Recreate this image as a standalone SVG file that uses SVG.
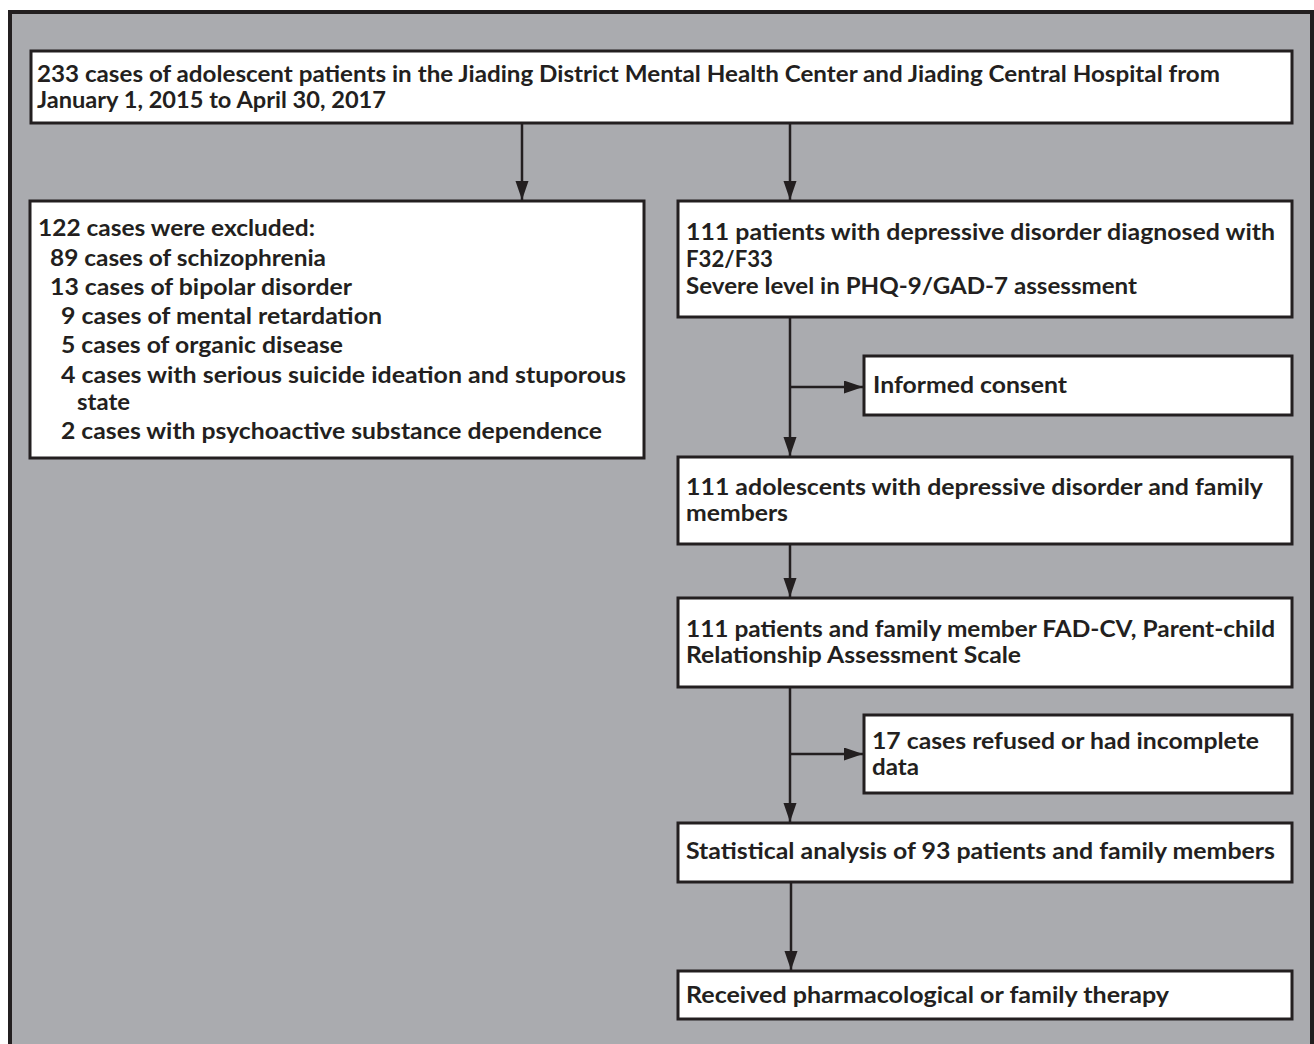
<svg xmlns="http://www.w3.org/2000/svg" width="1314" height="1044" viewBox="0 0 1314 1044">
<style>
.box{fill:#ffffff;stroke:#231f20;stroke-width:3}
.t{font-family:Lato,"Open Sans","Liberation Sans",sans-serif;font-weight:700;font-size:23px;fill:#231f20}
.c{stroke:#231f20;stroke-width:2.5;fill:none;marker-end:url(#ah)}
</style>
<defs>
<marker id="ah" markerUnits="userSpaceOnUse" markerWidth="20" markerHeight="14" refX="19" refY="6.5" orient="auto">
<path d="M0,0 L19,6.5 L0,13 z" fill="#231f20"/>
</marker>
</defs>
<rect width="1314" height="1044" fill="#ffffff"/>
<rect id="frame" x="10" y="12" width="1302" height="1100" fill="#aaabaf" stroke="#231f20" stroke-width="4"/>

<g id="connectors">
<line class="c" x1="522" y1="124" x2="522" y2="200"/>
<line class="c" x1="790" y1="124" x2="790" y2="200"/>
<line class="c" x1="790" y1="318" x2="790" y2="456"/>
<line class="c" x1="790" y1="387" x2="863" y2="387"/>
<line class="c" x1="790" y1="545" x2="790" y2="597"/>
<line class="c" x1="790" y1="688" x2="790" y2="822"/>
<line class="c" x1="790" y1="754" x2="863" y2="754"/>
<line class="c" x1="791" y1="883" x2="791" y2="970"/>
</g>

<g id="n-source">
<rect class="box" x="31" y="51" width="1261" height="72"/>
<text class="t" x="37" y="82" textLength="1183" lengthAdjust="spacingAndGlyphs">233 cases of adolescent patients in the Jiading District Mental Health Center and Jiading Central Hospital from</text>
<text class="t" x="37" y="108" textLength="349" lengthAdjust="spacingAndGlyphs">January 1, 2015 to April 30, 2017</text>
</g>

<g id="n-excluded">
<rect class="box" x="30" y="201" width="614" height="257"/>
<text class="t" x="38" y="236" textLength="277" lengthAdjust="spacingAndGlyphs">122 cases were excluded:</text>
<text class="t" x="50" y="266" textLength="276" lengthAdjust="spacingAndGlyphs">89 cases of schizophrenia</text>
<text class="t" x="50" y="295" textLength="302" lengthAdjust="spacingAndGlyphs">13 cases of bipolar disorder</text>
<text class="t" x="61" y="324" textLength="321" lengthAdjust="spacingAndGlyphs">9 cases of mental retardation</text>
<text class="t" x="61" y="353" textLength="282" lengthAdjust="spacingAndGlyphs">5 cases of organic disease</text>
<text class="t" x="61" y="383" textLength="565" lengthAdjust="spacingAndGlyphs">4 cases with serious suicide ideation and stuporous</text>
<text class="t" x="77" y="410" textLength="53" lengthAdjust="spacingAndGlyphs">state</text>
<text class="t" x="61" y="439" textLength="541" lengthAdjust="spacingAndGlyphs">2 cases with psychoactive substance dependence</text>
</g>

<g id="n-diagnosed">
<rect class="box" x="678" y="201" width="614" height="116"/>
<text class="t" x="686" y="240" textLength="589" lengthAdjust="spacingAndGlyphs">111 patients with depressive disorder diagnosed with</text>
<text class="t" x="686" y="267" textLength="87" lengthAdjust="spacingAndGlyphs">F32/F33</text>
<text class="t" x="686" y="294" textLength="451" lengthAdjust="spacingAndGlyphs">Severe level in PHQ-9/GAD-7 assessment</text>
</g>

<g id="n-consent">
<rect class="box" x="864" y="356" width="428" height="59"/>
<text class="t" x="873" y="393" textLength="194" lengthAdjust="spacingAndGlyphs">Informed consent</text>
</g>

<g id="n-adolescents">
<rect class="box" x="678" y="457" width="614" height="87"/>
<text class="t" x="686" y="495" textLength="577" lengthAdjust="spacingAndGlyphs">111 adolescents with depressive disorder and family</text>
<text class="t" x="686" y="521" textLength="102" lengthAdjust="spacingAndGlyphs">members</text>
</g>

<g id="n-assessment">
<rect class="box" x="678" y="598" width="614" height="89"/>
<text class="t" x="686" y="637" textLength="589" lengthAdjust="spacingAndGlyphs">111 patients and family member FAD-CV, Parent-child</text>
<text class="t" x="686" y="663" textLength="335" lengthAdjust="spacingAndGlyphs">Relationship Assessment Scale</text>
</g>

<g id="n-refused">
<rect class="box" x="864" y="715" width="428" height="78"/>
<text class="t" x="872" y="749" textLength="387" lengthAdjust="spacingAndGlyphs">17 cases refused or had incomplete</text>
<text class="t" x="872" y="775" textLength="47" lengthAdjust="spacingAndGlyphs">data</text>
</g>

<g id="n-statistical">
<rect class="box" x="678" y="823" width="614" height="59"/>
<text class="t" x="686" y="859" textLength="589" lengthAdjust="spacingAndGlyphs">Statistical analysis of 93 patients and family members</text>
</g>

<g id="n-therapy">
<rect class="box" x="678" y="971" width="614" height="48"/>
<text class="t" x="686" y="1003" textLength="483" lengthAdjust="spacingAndGlyphs">Received pharmacological or family therapy</text>
</g>
</svg>
